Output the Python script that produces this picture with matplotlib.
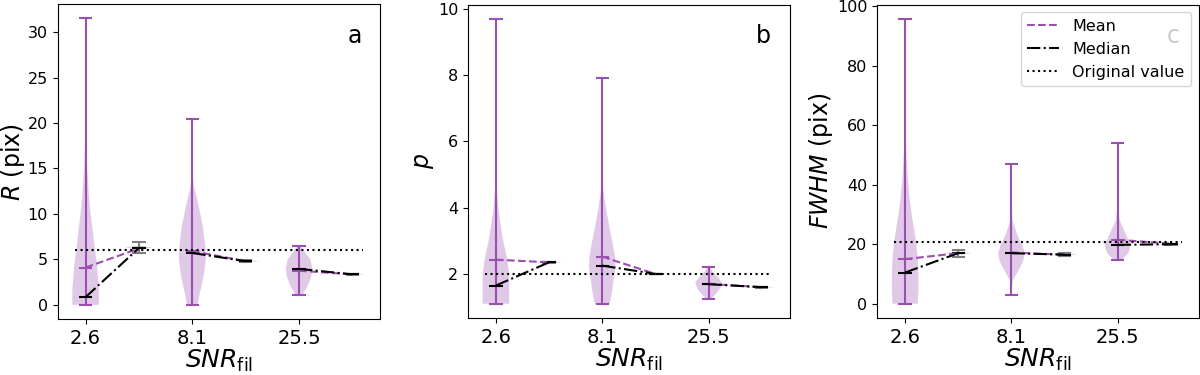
import numpy as np
import matplotlib.pyplot as plt

# x positions: purple violins at 1,2,3 and grey (re-fit) violins at +0.5
snr_labels = ["2.6", "8.1", "25.5"]
positions = [1, 2, 3]
offset = 0.5

purple = "#9b4fae"
grey = "#7f7f7f"

# ---- panel a : R (pix) ----
a_coords = [
    [0, 1, 2, 3, 4, 5, 6, 8, 10, 12, 15, 18, 22, 26, 31.5],
    [0, 1, 2, 3, 4, 5, 6, 7, 8, 9, 10, 11, 12, 13, 14, 16, 20.4],
    [1.1, 2, 3, 4, 5, 5.8, 6.5],
]
a_dens = [
    [1.0, 1.0, 0.98, 0.93, 0.88, 0.8, 0.7, 0.55, 0.38, 0.25, 0.12, 0.05, 0.02, 0.005, 0.002],
    [0.41, 0.52, 0.68, 0.82, 0.93, 1.0, 1.0, 0.93, 0.84, 0.74, 0.6, 0.45, 0.3, 0.12, 0.05, 0.02, 0.005],
    [0.25, 0.62, 0.9, 1.0, 0.85, 0.45, 0.1],
]
a_mean = [4.1, 5.9, 3.75]
a_median = [0.85, 5.7, 3.95]
a_min = [0, 0, 1.1]
a_max = [31.5, 20.4, 6.5]
a_fit_coords = [[6.1, 6.3, 6.5], [4.7, 4.8, 4.9], [3.28, 3.35, 3.42]]
a_fit_mean = [6.2, 4.8, 3.35]
a_fit_median = [6.25, 4.8, 3.35]
a_fit_min = [5.7, 4.75, 3.32]
a_fit_max = [6.9, 4.9, 3.38]
a_true = 6.0

# ---- panel b : p ----
b_coords = [
    [1.1, 1.5, 2.0, 2.5, 3.0, 3.5, 4.0, 4.5, 5.0, 6.0, 9.7],
    [1.1, 1.5, 2.0, 2.2, 2.5, 3.0, 3.5, 4.0, 4.5, 4.9, 7.9],
    [1.25, 1.4, 1.55, 1.75, 1.9, 2.05, 2.2],
]
b_dens = [
    [1.0, 1.0, 1.0, 0.82, 0.55, 0.35, 0.18, 0.08, 0.03, 0.01, 0.003],
    [0.56, 0.75, 0.93, 1.0, 0.97, 0.75, 0.5, 0.28, 0.1, 0.03, 0.003],
    [0.2, 0.55, 0.85, 1.0, 0.7, 0.35, 0.08],
]
b_mean = [2.43, 2.52, 1.7]
b_median = [1.65, 2.25, 1.69]
b_min = [1.1, 1.1, 1.25]
b_max = [9.7, 7.9, 2.2]
b_fit_coords = [[2.32, 2.35, 2.38], [1.98, 2.0, 2.02], [1.58, 1.6, 1.62]]
b_fit_mean = [2.35, 2.0, 1.6]
b_fit_median = [2.35, 2.0, 1.6]
b_fit_min = [2.33, 1.99, 1.59]
b_fit_max = [2.37, 2.01, 1.61]
b_true = 2.0

# ---- panel c : FWHM (pix) ----
c_coords = [
    [0, 5, 10, 15, 20, 25, 30, 35, 40, 45, 50, 55, 60, 70, 95.8],
    [2.8, 6, 8, 10, 13, 15, 17, 20, 22, 25, 28, 32, 47],
    [14.8, 17, 20, 22, 25, 28, 32, 40, 54],
]
c_dens = [
    [0.95, 1.0, 1.0, 0.95, 0.85, 0.68, 0.5, 0.35, 0.25, 0.16, 0.1, 0.05, 0.02, 0.008, 0.003],
    [0.01, 0.03, 0.12, 0.38, 0.75, 0.92, 1.0, 0.8, 0.55, 0.3, 0.08, 0.02, 0.003],
    [0.3, 0.8, 1.0, 0.75, 0.45, 0.15, 0.05, 0.01, 0.003],
]
c_mean = [15.0, 17.2, 21.5]
c_median = [10.5, 17.0, 19.8]
c_min = [0, 2.8, 14.8]
c_max = [95.8, 47, 54]
c_fit_coords = [[16.6, 17.0, 17.4], [16.2, 16.5, 16.8], [19.8, 20.0, 20.2]]
c_fit_mean = [17.0, 16.5, 20.2]
c_fit_median = [17.0, 16.5, 20.0]
c_fit_min = [15.8, 16.0, 19.9]
c_fit_max = [18.2, 17.0, 20.1]
c_true = 20.8


def make_stats(coords, dens, means, medians, mins, maxs):
    stats = []
    for i in range(len(coords)):
        stats.append({
            "coords": np.array(coords[i], float),
            "vals": np.array(dens[i], float),
            "mean": means[i],
            "median": medians[i],
            "min": mins[i],
            "max": maxs[i],
        })
    return stats


def style_violin(parts, color, alpha):
    for body in parts["bodies"]:
        body.set_facecolor(color)
        body.set_edgecolor("none")
        body.set_alpha(alpha)
    for key in ["cmins", "cmaxes", "cbars", "cmeans"]:
        parts[key].set_color(color)
        parts[key].set_linewidth(1.5)
    parts["cmedians"].set_color("black")
    parts["cmedians"].set_linewidth(1.5)


def plot_panel(ax, main, fit, true_value, ylabel, letter, label_x):
    pos_fit = [p + offset for p in positions]

    parts = ax.violin(main, positions=positions, widths=0.25,
                      showmeans=True, showmedians=True, showextrema=True)
    style_violin(parts, purple, 0.3)

    parts = ax.violin(fit, positions=pos_fit, widths=0.25,
                      showmeans=True, showmedians=True, showextrema=True)
    style_violin(parts, grey, 0.3)

    for i in range(3):
        lm, = ax.plot([positions[i], pos_fit[i]], [main[i]["mean"], fit[i]["mean"]],
                      ls="--", color=purple, lw=1.5, label="Mean")
        lmed, = ax.plot([positions[i], pos_fit[i]], [main[i]["median"], fit[i]["median"]],
                        ls="-.", color="black", lw=1.5, label="Median")

    lt = ax.hlines(true_value, 0.9, 3.6, colors="black", linestyles=":", lw=1.5,
                   label="Original value")

    ax.set_xticks(positions)
    ax.set_xticklabels(snr_labels)
    ax.tick_params(axis="x", labelsize=14)
    ax.tick_params(axis="y", labelsize=11.5)
    ax.set_xlabel("$SNR_{\\rm fil}$", fontsize=18, labelpad=0)
    ax.set_ylabel(ylabel, fontsize=17)
    ax.yaxis.set_label_coords(label_x, 0.5)
    ax.text(0.92, 0.9, letter, transform=ax.transAxes, fontsize=17,
            ha="center", va="center")
    return lm, lmed, lt


fig = plt.figure(figsize=(12, 3.75), dpi=100)
ax_a = fig.add_axes([0.048, 0.149, 0.269, 0.840])
ax_b = fig.add_axes([0.390, 0.152, 0.268, 0.836])
ax_c = fig.add_axes([0.731, 0.152, 0.268, 0.836])

plot_panel(ax_a,
           make_stats(a_coords, a_dens, a_mean, a_median, a_min, a_max),
           make_stats(a_fit_coords, [[0.3, 1, 0.3]] * 3, a_fit_mean, a_fit_median, a_fit_min, a_fit_max),
           a_true, "$R$ (pix)", "a", -0.095)
ax_a.set_yticks([0, 5, 10, 15, 20, 25, 30])

plot_panel(ax_b,
           make_stats(b_coords, b_dens, b_mean, b_median, b_min, b_max),
           make_stats(b_fit_coords, [[0.3, 1, 0.3]] * 3, b_fit_mean, b_fit_median, b_fit_min, b_fit_max),
           b_true, "$p$", "b", -0.1)
ax_b.set_yticks([2, 4, 6, 8, 10])

handles = plot_panel(ax_c,
                     make_stats(c_coords, c_dens, c_mean, c_median, c_min, c_max),
                     make_stats(c_fit_coords, [[0.3, 1, 0.3]] * 3, c_fit_mean, c_fit_median, c_fit_min, c_fit_max),
                     c_true, "$FWHM$ (pix)", "c", -0.13)
ax_c.set_yticks([0, 20, 40, 60, 80, 100])
ax_c.legend(handles=list(handles), loc="upper right", fontsize=11.5, framealpha=0.8)

fig.savefig("out.png", dpi=100)
plt.close()
